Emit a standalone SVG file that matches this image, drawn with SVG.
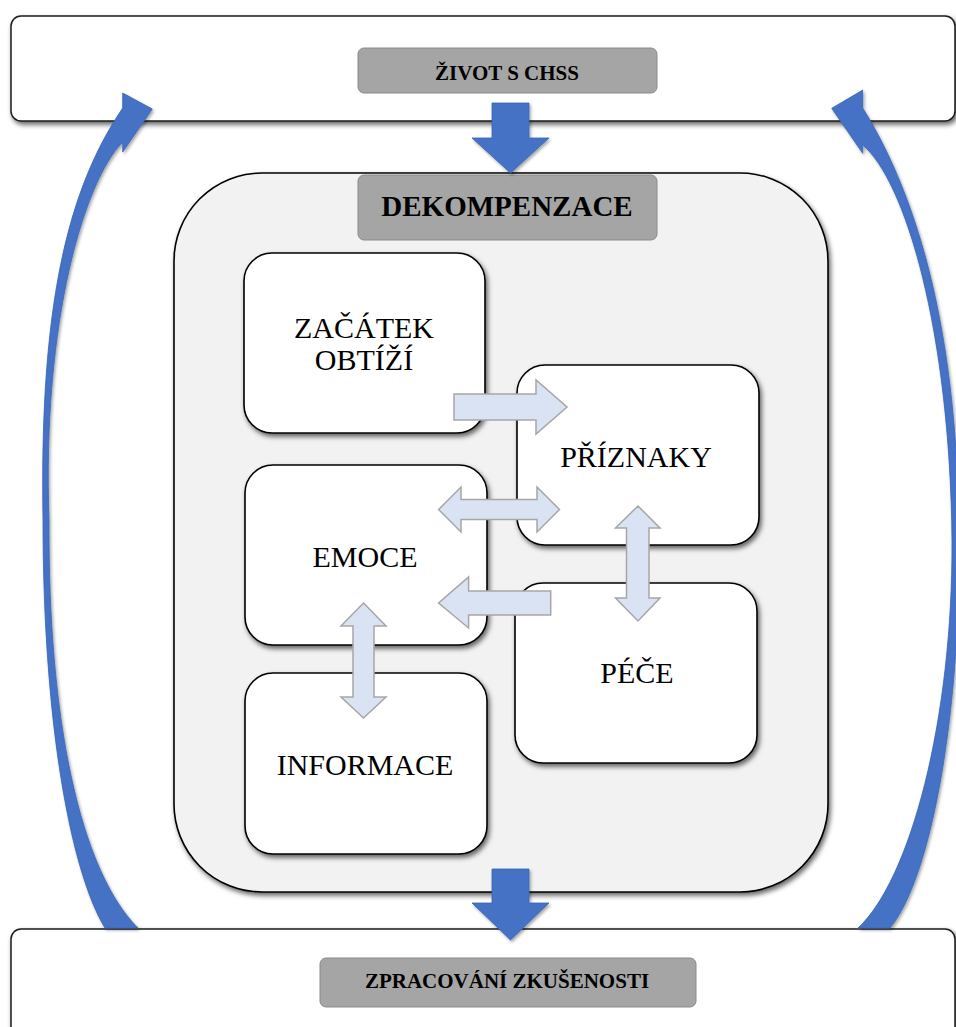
<svg xmlns="http://www.w3.org/2000/svg" width="956" height="1027" viewBox="0 0 956 1027">
<defs>
<filter id="sh" x="-10%" y="-10%" width="130%" height="130%">
<feDropShadow dx="2" dy="3" stdDeviation="2.5" flood-color="#000" flood-opacity="0.6"/>
</filter>
<filter id="shs" x="-10%" y="-10%" width="130%" height="130%">
<feDropShadow dx="1.5" dy="2" stdDeviation="1.5" flood-color="#000" flood-opacity="0.35"/>
</filter>
</defs>
<style>
.band{fill:#ffffff;stroke:#1a1a1a;stroke-width:1.5;filter:url(#sh)}
.cont{fill:#f2f2f2;stroke:#000;stroke-width:1.6;filter:url(#sh)}
.box{fill:#ffffff;stroke:#000;stroke-width:1.6;filter:url(#sh)}
.lab{fill:#a5a5a5;stroke:#8a8a8a;stroke-width:1}
.tb{font-family:"Liberation Serif","Times New Roman",serif;font-weight:bold;fill:#000;text-anchor:middle}
.tn{font-family:"Liberation Serif","Times New Roman",serif;font-size:30px;fill:#000;text-anchor:middle}
.blue{fill:#4472c4;stroke:#3a66b5;stroke-width:0.8;filter:url(#shs)}
.la{fill:#dae3f3;stroke:#a6a6a6;stroke-width:1.5}
</style>
<rect width="956" height="1027" fill="#ffffff"/>

<g id="zivot-s-chss">
<rect class="band" x="11" y="16" width="944" height="105" rx="10"/>
<rect class="lab" x="358" y="48" width="299" height="45" rx="6"/>
<text class="tb" x="507" y="80" font-size="21">ŽIVOT S CHSS</text>
</g>

<g id="dekompenzace">
<rect class="cont" x="174" y="173" width="654" height="719" rx="88"/>
<rect class="lab" x="358" y="175" width="299" height="65" rx="6"/>
<text class="tb" x="507" y="216" font-size="29">DEKOMPENZACE</text>
</g>

<g id="zacatek-obtizi">
<rect class="box" x="244" y="253" width="241" height="180" rx="28"/>
<text class="tn" x="364" y="338">ZAČÁTEK</text>
<text class="tn" x="364" y="370">OBTÍŽÍ</text>
</g>

<g id="priznaky">
<rect class="box" x="517" y="365" width="242" height="180" rx="28"/>
<text class="tn" x="636" y="467">PŘÍZNAKY</text>
</g>

<g id="emoce">
<rect class="box" x="245" y="465" width="242" height="180" rx="28"/>
<text class="tn" x="365" y="567">EMOCE</text>
</g>

<g id="pece">
<rect class="box" x="515" y="583" width="242" height="180" rx="28"/>
<text class="tn" x="637" y="683">PÉČE</text>
</g>

<g id="informace">
<rect class="box" x="245" y="673" width="242" height="181" rx="28"/>
<text class="tn" x="365" y="775">INFORMACE</text>
</g>

<g id="zpracovani-zkusenosti">
<rect class="band" x="11" y="929" width="944" height="120" rx="10"/>
<rect class="lab" x="320" y="958" width="376" height="49" rx="6"/>
<text class="tb" x="507" y="988" font-size="21">ZPRACOVÁNÍ ZKUŠENOSTI</text>
</g>

<g id="connectors">
<!-- curved return arrows -->
<path class="blue" d="M122.7,108 L122.7,93 L152.3,109 L122.7,152 L122.7,142 C85,180 42,320 49,520 C48,720 80,870 138,928 L105,928 C70,870 43,720 43,520 C40,330 60,200 122.7,108 Z"/>
<path class="blue" d="M862.7,108 L862.7,90 L831.7,108.3 L862.7,153.3 L862.7,145 C905,180 950,330 952,540 C953,720 910,880 858,928 L890,928 C930,880 960,720 959,545 C959,340 920,200 862.7,108 Z"/>
<!-- vertical flow arrows -->
<polygon class="blue" points="492,103 529,103 529,138 549,138 510.5,173 472,138 492,138"/>
<polygon class="blue" points="492,869 529,869 529,903 549,903 510.5,940 472,903 492,903"/>
<!-- inner arrows -->
<polygon class="la" points="454,394 536,394 536,380 567,407 536,434 536,420 454,420"/>
<polygon class="la" points="438.6,509.5 461,487 461,499.5 537,499.5 537,487 559.5,509.5 537,532 537,519.5 461,519.5 461,532"/>
<polygon class="la" points="638,506 660,528 649,528 649,598 660,598 638,621 615.5,598 626.5,598 626.5,528 615.5,528"/>
<polygon class="la" points="550.7,591 468.6,591 468.6,577 438.6,603 468.6,628 468.6,615 550.7,615"/>
<polygon class="la" points="363.5,603 386,626 374,626 374,697 386,697 363.5,718 341,697 353,697 353,626 341,626"/>
</g>
</svg>
